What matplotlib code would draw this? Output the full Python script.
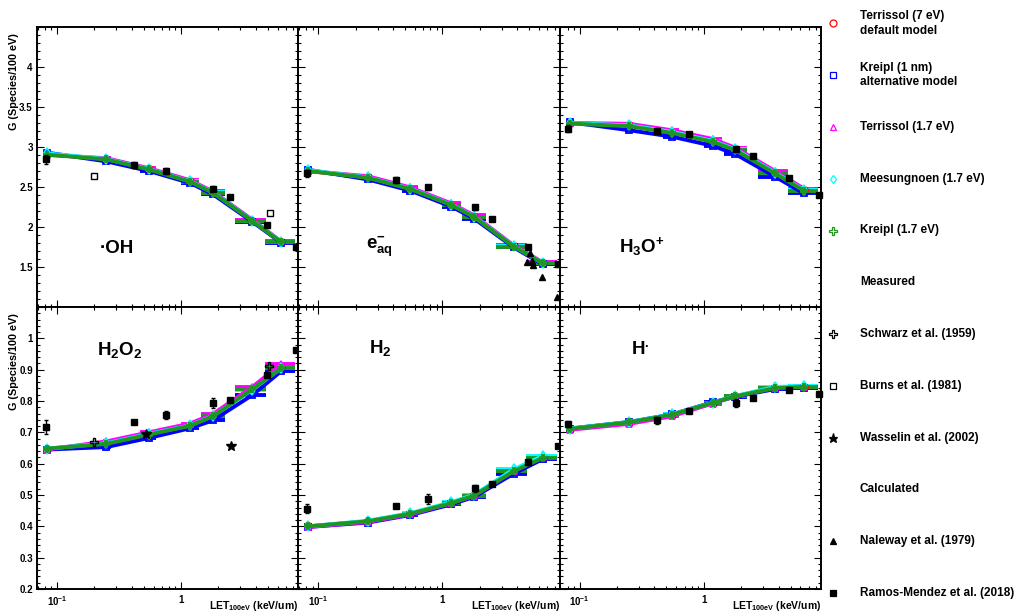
import matplotlib
matplotlib.use("Agg")
import matplotlib.pyplot as plt
import numpy as np
from matplotlib.lines import Line2D
from matplotlib.ticker import FixedLocator, FixedFormatter, LogLocator, MultipleLocator, FuncFormatter, NullFormatter

plt.rcParams["font.family"] = ["Liberation Sans", "DejaVu Sans"]
plt.rcParams["font.weight"] = "bold"
plt.rcParams["mathtext.fontset"] = "custom"
plt.rcParams["mathtext.rm"] = "Liberation Sans:bold"
plt.rcParams["mathtext.it"] = "Liberation Sans:bold:italic"
plt.rcParams["mathtext.bf"] = "Liberation Sans:bold"

# ---- data ----
SPECIES_LABELS = ["\u00b7OH", r"$\mathrm{e^{-}_{aq}}$", r"$\mathrm{H_{3}O^{+}}$",
                  r"$\mathrm{H_{2}O_{2}}$", r"$\mathrm{H_{2}}$", r"$\mathrm{H^{.}}$"]

# simulated LET bins (keV/um) and their extents
LET_SIM = [0.083, 0.25, 0.55, 1.18, 1.8, 3.75, 6.4]
LET_SIM_LO = [0.080, 0.235, 0.47, 1.0, 1.45, 2.72, 4.75]
LET_SIM_HI = [0.087, 0.27, 0.63, 1.4, 2.24, 4.8, 8.3]

MODELS = ["Terrissol (7 eV)", "Kreipl (1 nm)", "Terrissol (1.7 eV)", "Meesungnoen (1.7 eV)", "Kreipl (1.7 eV)"]
MODEL_COLORS = ["#ff0000", "#0000ff", "#ff00ff", "#00ffff", "#1f961f"]
MODEL_MARKERS = ["o", "s", "^", "d", "P"]

G_OH = {
    "Terrissol (7 eV)":     [2.91, 2.85, 2.725, 2.57, 2.435, 2.08, 1.81],
    "Kreipl (1 nm)":        [2.93, 2.82, 2.70, 2.55, 2.41, 2.065, 1.805],
    "Terrissol (1.7 eV)":   [2.90, 2.86, 2.735, 2.585, 2.445, 2.09, 1.82],
    "Meesungnoen (1.7 eV)": [2.92, 2.85, 2.725, 2.57, 2.435, 2.08, 1.815],
    "Kreipl (1.7 eV)":      [2.905, 2.845, 2.72, 2.566, 2.43, 2.076, 1.81],
}
G_EAQ = {
    "Terrissol (7 eV)":     [2.70, 2.62, 2.48, 2.28, 2.13, 1.76, 1.55],
    "Kreipl (1 nm)":        [2.715, 2.595, 2.455, 2.255, 2.105, 1.745, 1.535],
    "Terrissol (1.7 eV)":   [2.70, 2.635, 2.495, 2.295, 2.145, 1.77, 1.56],
    "Meesungnoen (1.7 eV)": [2.71, 2.62, 2.48, 2.28, 2.13, 1.76, 1.55],
    "Kreipl (1.7 eV)":      [2.70, 2.616, 2.475, 2.275, 2.125, 1.756, 1.548],
}
G_H3O = {
    "Terrissol (7 eV)":     [3.30, 3.27, 3.19, 3.075, 2.97, 2.68, 2.46],
    "Kreipl (1 nm)":        [3.31, 3.21, 3.13, 3.015, 2.91, 2.63, 2.42],
    "Terrissol (1.7 eV)":   [3.30, 3.29, 3.21, 3.10, 2.99, 2.70, 2.48],
    "Meesungnoen (1.7 eV)": [3.30, 3.27, 3.19, 3.075, 2.97, 2.68, 2.46],
    "Kreipl (1.7 eV)":      [3.293, 3.26, 3.177, 3.065, 2.96, 2.67, 2.454],
}
G_H2O2 = {
    "Terrissol (7 eV)":     [0.647, 0.665, 0.695, 0.722, 0.752, 0.838, 0.906],
    "Kreipl (1 nm)":        [0.645, 0.653, 0.682, 0.713, 0.738, 0.819, 0.895],
    "Terrissol (1.7 eV)":   [0.645, 0.671, 0.700, 0.728, 0.758, 0.845, 0.918],
    "Meesungnoen (1.7 eV)": [0.648, 0.665, 0.695, 0.722, 0.752, 0.836, 0.905],
    "Kreipl (1.7 eV)":      [0.648, 0.663, 0.693, 0.721, 0.751, 0.838, 0.905],
}
G_H2 = {
    "Terrissol (7 eV)":     [0.400, 0.416, 0.440, 0.475, 0.499, 0.577, 0.619],
    "Kreipl (1 nm)":        [0.398, 0.412, 0.436, 0.470, 0.494, 0.568, 0.614],
    "Terrissol (1.7 eV)":   [0.398, 0.414, 0.438, 0.474, 0.498, 0.576, 0.620],
    "Meesungnoen (1.7 eV)": [0.400, 0.418, 0.442, 0.477, 0.501, 0.582, 0.624],
    "Kreipl (1.7 eV)":      [0.400, 0.416, 0.440, 0.474, 0.498, 0.576, 0.618],
}
G_H = {
    "Terrissol (7 eV)":     [0.711, 0.732, 0.756, 0.795, 0.815, 0.843, 0.846],
    "Kreipl (1 nm)":        [0.712, 0.733, 0.757, 0.796, 0.814, 0.838, 0.843],
    "Terrissol (1.7 eV)":   [0.708, 0.727, 0.751, 0.792, 0.815, 0.843, 0.846],
    "Meesungnoen (1.7 eV)": [0.712, 0.733, 0.757, 0.795, 0.816, 0.845, 0.847],
    "Kreipl (1.7 eV)":      [0.711, 0.732, 0.756, 0.794, 0.815, 0.841, 0.845],
}

# Ramos-Mendez et al. (2018), calculated
LET_RM = [0.081, 0.42, 0.76, 1.82, 2.49, 4.9, 8.5]
RM_OH = [2.845, 2.774, 2.70, 2.48, 2.37, 2.03, 1.75]
RM_OH_ERR = [0.06, 0.04, 0.035, 0.035, 0.01, 0.01, 0.01]
RM_EAQ = [2.67, 2.587, 2.495, 2.245, 2.10, 1.756, 1.535]
RM_EAQ_ERR = [0.04, 0.035, 0.03, 0.035, 0.01, 0.01, 0.01]
RM_H3O = [3.23, 3.20, 3.16, 2.98, 2.89, 2.61, 2.40]
RM_H3O_ERR = [0.04, 0.035, 0.03, 0.02, 0.01, 0.01, 0.01]
RM_H2O2 = [0.716, 0.734, 0.756, 0.794, 0.804, 0.884, 0.963]
RM_H2O2_ERR = [0.022, 0.004, 0.012, 0.015, 0.004, 0.008, 0.004]
RM_H2 = [0.456, 0.464, 0.487, 0.521, 0.536, 0.605, 0.657]
RM_H2_ERR = [0.014, 0.004, 0.015, 0.010, 0.004, 0.010, 0.004]
RM_H = [0.727, 0.738, 0.768, 0.793, 0.810, 0.836, 0.823]
RM_H_ERR = [0.010, 0.010, 0.006, 0.012, 0.004, 0.008, 0.008]

# measured
BURNS_LET = [0.198, 5.24]
BURNS_OH = [2.64, 2.18]
SCHWARZ_LET = [0.197, 5.07]
SCHWARZ_H2O2 = [0.669, 0.913]
WASSELIN_LET = [0.526, 2.51]
WASSELIN_H2O2 = [0.696, 0.655]
# Naleway et al. (1979), calculated
NALEWAY_LET = [4.8, 5.05, 5.3, 5.4, 6.3, 8.3]
NALEWAY_EAQ = [1.56, 1.68, 1.57, 1.52, 1.38, 1.13]

LEGEND_LABELS = ["Terrissol (7 eV)\ndefault model", "Kreipl (1 nm)\nalternative model",
                 "Terrissol (1.7 eV)", "Meesungnoen (1.7 eV)", "Kreipl (1.7 eV)", "Measured",
                 "Schwarz et al. (1959)", "Burns et al. (1981)", "Wasselin et al. (2002)",
                 "Calculated", "Naleway et al. (1979)", "Ramos-Mendez et al. (2018)"]

# ---- figure ----
W, H = 1015, 612
fig = plt.figure(figsize=(W / 100, H / 100), dpi=100)

left_px, right_px = 37, 821
top_px, mid_px, bot_px = 27, 307, 589
pw = (right_px - left_px) / 3

sim_tables = [G_OH, G_EAQ, G_H3O, G_H2O2, G_H2, G_H]
rm_vals = [(RM_OH, RM_OH_ERR), (RM_EAQ, RM_EAQ_ERR), (RM_H3O, RM_H3O_ERR),
           (RM_H2O2, RM_H2O2_ERR), (RM_H2, RM_H2_ERR), (RM_H, RM_H_ERR)]
label_pos = [(0.24, 0.21), (0.26, 0.215), (0.226, 0.215), (0.229, 0.848), (0.27, 0.855), (0.272, 0.848)]

let = np.array(LET_SIM)
xerr = [let - np.array(LET_SIM_LO), np.array(LET_SIM_HI) - let]

for i in range(6):
    row, col = divmod(i, 3)
    y_lo = mid_px if row == 0 else bot_px
    y_hi = top_px if row == 0 else mid_px
    ax = fig.add_axes([(left_px + col * pw) / W, 1 - y_lo / H, pw / W, (y_lo - y_hi) / H])

    for name, color, marker in zip(MODELS, MODEL_COLORS, MODEL_MARKERS):
        ax.errorbar(LET_SIM, sim_tables[i][name], xerr=xerr, color=color, lw=2.8,
                    elinewidth=2.8, capsize=0, marker=marker, ms=5, mfc="none",
                    mew=1.3, zorder=3)

    rm, rm_err = rm_vals[i]
    ax.errorbar(LET_RM, rm, yerr=rm_err, fmt="s", color="black", ms=4.5, elinewidth=1,
                capsize=1.5, zorder=5, clip_on=False)

    if i == 0:
        ax.plot(BURNS_LET, BURNS_OH, "s", mfc="white", mec="black", ms=5, mew=1, zorder=5)
    if i == 1:
        ax.plot(NALEWAY_LET, NALEWAY_EAQ, "^", color="black", ms=4, zorder=5)
    if i == 3:
        ax.plot(SCHWARZ_LET, SCHWARZ_H2O2, "P", mfc="none", mec="black", ms=5.5, mew=1, zorder=6)
        ax.plot(WASSELIN_LET, WASSELIN_H2O2, "*", color="black", ms=7, zorder=6)

    ax.text(label_pos[i][0], label_pos[i][1], SPECIES_LABELS[i], transform=ax.transAxes,
            fontsize=13.5, fontweight="bold", ha="left", va="center")

    ax.set_xscale("log")
    ax.set_xlim(0.069, 8.8)
    ax.xaxis.set_major_locator(FixedLocator([0.1, 1]))
    ax.xaxis.set_minor_locator(LogLocator(base=10, subs=np.arange(2, 10) * 1.0, numticks=10))
    ax.xaxis.set_minor_formatter(NullFormatter())
    if row == 1:
        ax.xaxis.set_major_formatter(FixedFormatter([r"$10^{-1}$", "1"]))
        ax.set_xlabel(r"LET$_{\mathrm{100eV}}$ (keV/um)", fontsize=7.5, fontweight="bold", loc="right")
        ax.xaxis.set_label_coords(1.0, -0.035)
    else:
        ax.xaxis.set_major_formatter(NullFormatter())

    if row == 0:
        ax.set_ylim(1.0, 4.5)
        ax.yaxis.set_major_locator(MultipleLocator(0.5))
        ax.yaxis.set_minor_locator(MultipleLocator(0.1))
        fmt = FuncFormatter(lambda v, _: "" if v < 1.25 or v > 4.25 else f"{v:g}")
    else:
        ax.set_ylim(0.2, 1.1)
        ax.yaxis.set_major_locator(MultipleLocator(0.1))
        ax.yaxis.set_minor_locator(MultipleLocator(0.02))
        fmt = FuncFormatter(lambda v, _: "" if v > 1.05 else f"{v:.1f}".replace("1.0", "1"))
    if col == 0:
        ax.yaxis.set_major_formatter(fmt)
        ax.set_ylabel("G (Species/100 eV)", fontsize=7.8, fontweight="bold", loc="top")
        ax.yaxis.set_label_coords(-0.07, 0.978)
    else:
        ax.yaxis.set_major_formatter(NullFormatter())

    ax.tick_params(which="both", direction="in", top=True, right=True, width=0.8, labelsize=7, pad=3)
    ax.tick_params(which="major", length=5)
    ax.tick_params(which="minor", length=2.5)
    ax.tick_params(axis="x", which="major", pad=4)
    for sp in ax.spines.values():
        sp.set_linewidth(1.4)

# ---- legend, ROOT style: evenly spaced entries on the right ----
legend_style = [
    dict(marker="o", mfc="none", mec="#ff0000", ms=5),
    dict(marker="s", mfc="none", mec="#0000ff", ms=5),
    dict(marker="^", mfc="none", mec="#ff00ff", ms=5),
    dict(marker="d", mfc="none", mec="#00ffff", ms=4.5),
    dict(marker="P", mfc="none", mec="#1f961f", ms=5.5),
    None,
    dict(marker="P", mfc="none", mec="black", ms=5.5),
    dict(marker="s", mfc="none", mec="black", ms=5),
    dict(marker="*", mfc="black", mec="black", ms=6.5),
    None,
    dict(marker="^", mfc="black", mec="black", ms=4),
    dict(marker="s", mfc="black", mec="black", ms=4.5),
]
entry_top, entry_step = 23.3, 51.8
for k, (lab, style) in enumerate(zip(LEGEND_LABELS, legend_style)):
    yc = 1 - (entry_top + k * entry_step) / H
    if style is not None:
        fig.add_artist(Line2D([833 / W], [yc], transform=fig.transFigure, ls="none", mew=0.9, **style))
    fig.text(860 / W, yc, lab, fontsize=8.5, fontweight="bold", ha="left", va="center", linespacing=1.3)

fig.savefig("out.png", dpi=100)
